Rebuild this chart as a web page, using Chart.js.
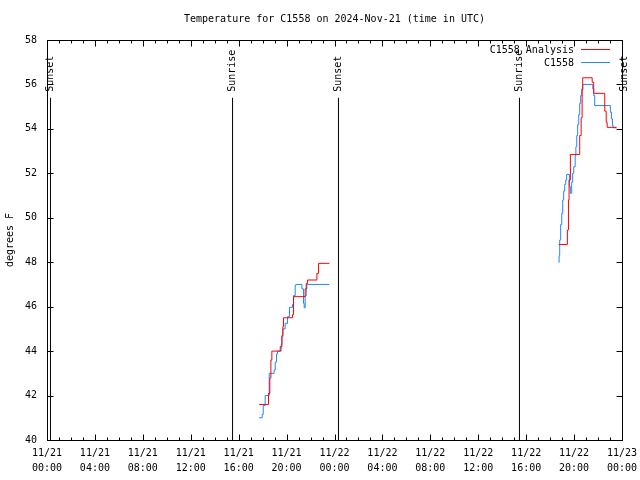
<!DOCTYPE html>
<html>
<head>
<meta charset="utf-8">
<script src="https://cdn.jsdelivr.net/npm/chart.js@4"></script>
<style>
  body { margin: 0; background: #fff; }
  canvas { display: block; }
</style>
</head>
<body>
<canvas id="chart" width="640" height="480"></canvas>
<script>
// Hours since 11/21 00:00 UTC; a null temperature breaks the line between the two evenings
const analysisHours = [17.71, 18.49, 18.60, 18.69, 18.77, 19.47, 19.61, 19.69, 19.74, 20.49, 20.58, 21.55, 21.64, 21.75, 22.53, 22.67, 23.58,
    30,
    42.72, 43.44, 43.53, 43.58, 43.69, 44.47, 44.59, 44.67, 44.72, 45.51, 45.64, 46.56, 46.68, 46.76, 47.54];
const analysisTemps = [41.6, 42.1, 42.8, 43.6, 44.0, 44.2, 44.7, 45.1, 45.5, 45.65, 46.45, 46.8, 47.05, 47.2, 47.5, 47.95, 47.95,
    null,
    48.8, 49.45, 50.8, 51.7, 52.85, 53.7, 54.5, 55.75, 56.3, 56.1, 55.6, 54.8, 54.3, 54.07, 54.07];

const stationHours = [17.71, 17.96, 18.05, 18.21, 18.55, 18.96, 19.05, 19.16, 19.24, 19.55, 19.61, 19.69, 19.88, 20.08, 20.24, 20.49, 20.58, 20.72, 20.80, 21.28, 21.41, 21.47, 21.55, 21.64, 21.69, 23.58,
    30,
    42.69, 42.75, 42.80, 42.88, 42.97, 43.05, 43.13, 43.22, 43.30, 43.38, 43.61, 43.69, 43.80, 43.88, 43.97, 44.09, 44.15, 44.22, 44.30, 44.39, 44.47, 44.55, 44.64, 44.72, 45.56, 45.64, 45.72, 47.03, 47.12, 47.20, 47.26, 47.54];
const stationTemps = [41.0, 41.15, 41.55, 42.0, 43.0, 43.15, 43.5, 43.87, 44.0, 44.3, 44.65, 45.0, 45.25, 45.55, 45.97, 46.1, 46.5, 46.97, 47.0, 46.8, 46.15, 45.95, 46.5, 46.8, 47.0, 47.0,
    null,
    48.0, 48.3, 49.0, 49.7, 50.2, 50.8, 51.2, 51.5, 51.7, 51.95, 51.4, 51.1, 51.6, 52.0, 52.3, 52.8, 53.2, 53.7, 54.2, 54.65, 55.15, 55.5, 55.8, 56.0, 55.8, 55.5, 55.05, 54.75, 54.45, 54.15, 54.05, 54.05];

// Sun events (hours) and their labels
const sunHours = [0.29, 15.49, 24.33, 39.44, 48.21];
const sunLabels = ['Sunset', 'Sunrise', 'Sunset', 'Sunrise', 'Sunset'];
const sunLineTop = 55.4;

const seriesNames = ['C1558 Analysis', 'C1558'];
const seriesColors = ['#ff0000', '#1e88ff'];
const chartTitle = 'Temperature for C1558 on 2024-Nov-21 (time in UTC)';
const yTitle = 'degrees F';
const xMin = 0, xMax = 48, xStep = 4;
const yMin = 40, yMax = 58, yStep = 2;

const FONT = '10px "DejaVu Sans Mono", monospace';

function toPoints(hours, temps) {
    return hours.map((h, i) => ({ x: h, y: temps[i] }));
}

function sunLinePoints() {
    const pts = [];
    sunHours.forEach(h => {
        pts.push({ x: h, y: yMin }, { x: h, y: sunLineTop }, { x: h, y: null });
    });
    return pts;
}

function hourLabel(h) {
    const day = 21 + Math.floor(h / 24);
    const hh = String(h % 24).padStart(2, '0');
    return ['11/' + day, hh + ':00'];
}

// Frame, inward ticks, sun labels, legend and title
const decorations = {
    id: 'decorations',
    afterDraw(chart) {
        const { ctx, chartArea: a, scales: { x, y } } = chart;
        ctx.save();
        ctx.strokeStyle = '#000';
        ctx.lineWidth = 1;
        const L = Math.round(a.left) + 0.5, R = Math.round(a.right) + 0.5;
        const T = Math.round(a.top) + 0.5, B = Math.round(a.bottom) + 0.5;
        ctx.strokeRect(L, T, R - L, B - T);

        ctx.beginPath();
        for (let h = xMin; h <= xMax; h++) {
            const px = Math.round(x.getPixelForValue(h)) + 0.5;
            const len = h % xStep === 0 ? 6 : 3;
            ctx.moveTo(px, B); ctx.lineTo(px, B - len);
            ctx.moveTo(px, T); ctx.lineTo(px, T + len);
        }
        for (let t = yMin; t <= yMax; t += yStep) {
            const py = Math.round(y.getPixelForValue(t)) + 0.5;
            ctx.moveTo(L, py); ctx.lineTo(L + 6, py);
            ctx.moveTo(R, py); ctx.lineTo(R - 6, py);
        }
        ctx.stroke();

        ctx.font = FONT;
        ctx.fillStyle = '#000';

        // sunrise / sunset labels
        sunHours.forEach((h, i) => {
            const px = x.getPixelForValue(h);
            const py = y.getPixelForValue(sunLineTop) - 6;
            ctx.save();
            ctx.translate(px, py);
            ctx.rotate(-Math.PI / 2);
            ctx.textAlign = 'left';
            ctx.textBaseline = 'middle';
            ctx.fillText(sunLabels[i], 0, 0);
            ctx.restore();
        });

        // legend
        ctx.textAlign = 'right';
        ctx.textBaseline = 'middle';
        seriesNames.forEach((name, i) => {
            const ly = 50 + i * 13;
            ctx.fillText(name, 574, ly);
            ctx.strokeStyle = seriesColors[i];
            ctx.beginPath();
            ctx.moveTo(581, ly - 0.5);
            ctx.lineTo(610, ly - 0.5);
            ctx.stroke();
        });

        // title
        ctx.textAlign = 'center';
        ctx.fillText(chartTitle, (a.left + a.right) / 2, 19);
        ctx.restore();
    }
};

const lineStyle = {
    borderWidth: 1,
    pointRadius: 0,
    fill: false,
    spanGaps: false
};

new Chart(document.getElementById('chart'), {
    type: 'line',
    data: {
        datasets: [
            { ...lineStyle, label: 'sun', data: sunLinePoints(), borderColor: '#000', clip: false },
            { ...lineStyle, label: seriesNames[0], data: toPoints(analysisHours, analysisTemps), borderColor: seriesColors[0], stepped: true },
            { ...lineStyle, label: seriesNames[1], data: toPoints(stationHours, stationTemps), borderColor: seriesColors[1], stepped: true }
        ]
    },
    options: {
        responsive: false,
        animation: false,
        devicePixelRatio: 1,
        layout: { padding: { top: 40, right: 18, left: 0, bottom: 0 } },
        plugins: {
            legend: { display: false },
            title: { display: false },
            tooltip: { enabled: false }
        },
        scales: {
            x: {
                type: 'linear',
                min: xMin,
                max: xMax,
                grid: { display: false, drawTicks: false },
                border: { display: false },
                ticks: {
                    stepSize: xStep,
                    autoSkip: false,
                    maxRotation: 0,
                    padding: 6,
                    color: '#000',
                    font: { family: '"DejaVu Sans Mono", monospace', size: 10, lineHeight: 1.5 },
                    callback: v => hourLabel(v)
                },
                afterFit: s => { s.height = 40; s.paddingLeft = 0; s.paddingRight = 0; }
            },
            y: {
                min: yMin,
                max: yMax,
                grid: { display: false, drawTicks: false },
                border: { display: false },
                ticks: {
                    stepSize: yStep,
                    padding: 10,
                    color: '#000',
                    font: { family: '"DejaVu Sans Mono", monospace', size: 10 }
                },
                title: {
                    display: true,
                    text: yTitle,
                    color: '#000',
                    padding: 4,
                    font: { family: '"DejaVu Sans Mono", monospace', size: 10 }
                },
                afterFit: s => { s.width = 47; }
            }
        }
    },
    plugins: [decorations]
});
</script>
</body>
</html>
